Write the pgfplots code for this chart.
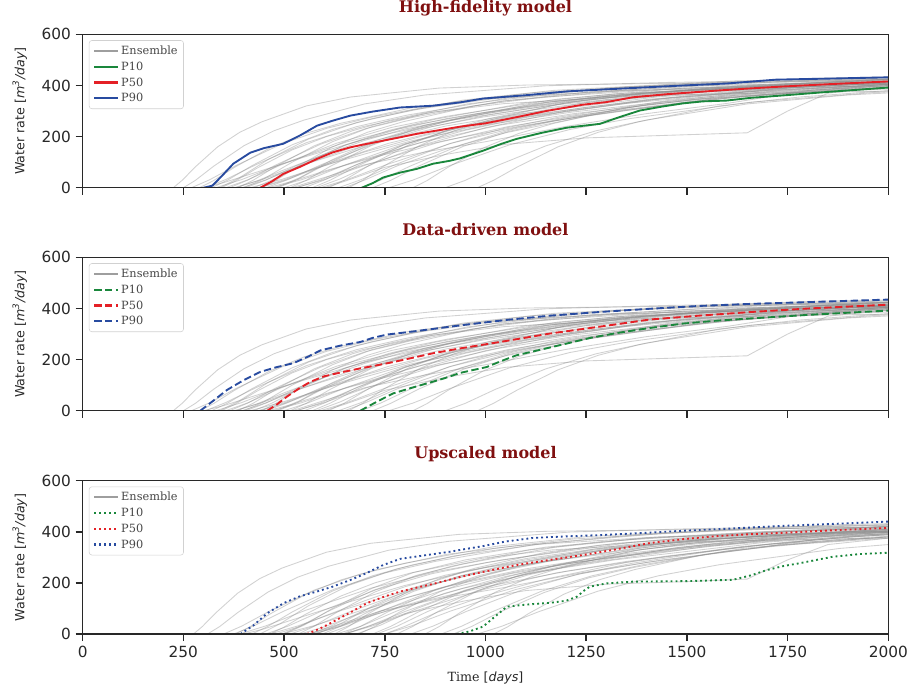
\documentclass[border=0pt]{standalone}
\usepackage{fontspec}
\setmainfont{DejaVu Sans}
\newfontfamily\dvserif{DejaVu Serif}
\usepackage{pgfplots}
\pgfplotsset{compat=1.18}

\definecolor{pten}{RGB}{26,135,60}
\definecolor{pfifty}{RGB}{228,32,38}
\definecolor{pninety}{RGB}{40,75,160}
\definecolor{ttl}{RGB}{128,16,16}
\definecolor{spine}{RGB}{40,40,40}

\pgfplotsset{
  ens/.style={black!45, opacity=0.4, line width=0.65pt, forget plot},
  panel/.style={
    scale only axis, width=604.2pt, height=115pt,
    axis on top,
    xmin=0, xmax=2000, ymin=0, ymax=600,
    xtick={0,250,...,2000}, ytick={0,200,400,600},
    tick align=outside, xtick pos=bottom, ytick pos=left,
    major tick length=5.25pt,
    every tick/.style={spine, line width=1.1pt},
    axis line style={spine, line width=1.1pt},
    tick label style={font=\fontsize{11.5}{13}\selectfont, text=spine},
    /pgf/number format/assume math mode=true,
    /pgf/number format/set thousands separator={},
    ylabel={Water rate [\textit{m}\textsuperscript{\textit{3}}\textit{/day}]},
    ylabel style={at={(axis description cs:-0.078,0.5)}, anchor=center, font=\fontsize{9.5}{11}\selectfont, text=spine},
    title style={at={(axis description cs:0.5,1)}, anchor=base, yshift=10.3pt, font=\dvserif\bfseries\fontsize{12}{14}\selectfont, text=ttl},
    legend style={at={(axis description cs:0.0078,0.962)}, anchor=north west,
      draw=black!18, rounded corners=2pt, fill=white, fill opacity=0.85, text opacity=1,
      font=\dvserif\fontsize{8.5}{10}\selectfont, text=black!72,
      inner xsep=3pt, inner ysep=2pt, row sep=0pt,
      nodes={inner sep=1.4pt, text depth=0.18em, text height=0.72em}},
    legend cell align=left,
    legend image code/.code={\draw[#1, line width=1.6pt] (0pt,0pt) -- (18pt,0pt);},
  }
}

\newcommand{\ensA}{%
\addplot[ens] coordinates {(0,0)(225,0)(247,29)(280,82)(335,160)(390,217)(445,258)(555,320)(665,355)(885,390)(1105,402)(2000,418)};
\addplot[ens] coordinates {(0,0)(250,0)(280,29)(325,84)(400,164)(475,223)(550,265)(700,328)(850,363)(1150,399)(1450,412)(2000,425)};
\addplot[ens] coordinates {(0,0)(270,0)(315,31)(382,88)(495,172)(607,233)(720,277)(945,343)(1170,381)(1620,418)(2000,430)};
\addplot[ens] coordinates {(0,0)(290,0)(325,28)(377,80)(465,156)(552,212)(640,252)(815,312)(990,346)(1340,380)(1690,392)(2000,398)};
\addplot[ens] coordinates {(0,0)(305,0)(355,32)(430,90)(555,176)(680,239)(805,284)(1055,351)(1305,389)(1805,428)(2000,434)};
\addplot[ens] coordinates {(0,0)(320,0)(360,30)(420,86)(520,168)(620,228)(720,271)(920,335)(1120,372)(1520,409)(1920,421)(2000,423)};
\addplot[ens] coordinates {(0,0)(330,0)(395,32)(492,92)(655,179)(817,244)(980,290)(1305,359)(1630,398)(2000,425)};
\addplot[ens] coordinates {(0,0)(345,0)(380,27)(432,76)(520,148)(607,201)(695,239)(870,296)(1045,329)(1395,361)(1745,372)(2000,378)};
\addplot[ens] coordinates {(0,0)(355,0)(410,31)(492,89)(630,174)(767,236)(905,280)(1180,347)(1455,385)(2000,423)};
\addplot[ens] coordinates {(0,0)(365,0)(410,30)(477,87)(590,170)(702,231)(815,274)(1040,339)(1265,376)(1715,413)(2000,424)};
\addplot[ens] coordinates {(0,0)(375,0)(445,32)(550,91)(725,177)(900,241)(1075,287)(1425,355)(1775,394)(2000,410)};
\addplot[ens] coordinates {(0,0)(385,0)(423,29)(480,84)(575,164)(670,223)(765,265)(955,328)(1145,363)(1525,399)(1905,412)(2000,414)};
\addplot[ens] coordinates {(0,0)(395,0)(455,31)(545,88)(695,172)(845,233)(995,277)(1295,343)(1595,381)(2000,410)};
\addplot[ens] coordinates {(0,0)(405,0)(455,30)(530,86)(655,168)(780,228)(905,271)(1155,335)(1405,372)(1905,409)(2000,412)};
\addplot[ens] coordinates {(0,0)(415,0)(495,33)(615,94)(815,183)(1015,249)(1215,296)(1615,367)(2000,404)};
\addplot[ens] coordinates {(0,0)(425,0)(470,30)(537,85)(650,166)(762,225)(875,268)(1100,332)(1325,368)(1775,404)(2000,414)};
\addplot[ens] coordinates {(0,0)(435,0)(500,31)(597,89)(760,174)(922,236)(1085,280)(1410,347)(1735,385)(2000,405)};
\addplot[ens] coordinates {(0,0)(445,0)(480,29)(532,82)(620,160)(707,217)(795,258)(970,320)(1145,355)(1495,390)(1845,402)(2000,405)};
\addplot[ens] coordinates {(0,0)(455,0)(510,32)(592,90)(730,176)(867,239)(1005,284)(1280,351)(1555,389)(2000,423)};
\addplot[ens] coordinates {(0,0)(470,0)(545,32)(657,92)(845,179)(1032,244)(1220,290)(1595,359)(1970,398)(2000,400)};
\addplot[ens] coordinates {(0,0)(485,0)(530,30)(597,86)(710,168)(822,228)(935,271)(1160,335)(1385,372)(1835,409)(2000,414)};
\addplot[ens] coordinates {(0,0)(500,0)(560,31)(650,88)(800,172)(950,233)(1100,277)(1400,343)(1700,381)(2000,404)};
\addplot[ens] coordinates {(0,0)(515,0)(555,29)(615,84)(715,164)(815,223)(915,265)(1115,328)(1315,363)(1715,399)(2000,410)};
\addplot[ens] coordinates {(0,0)(530,0)(600,32)(705,90)(880,176)(1055,239)(1230,284)(1580,351)(1930,389)(2000,394)};
\addplot[ens] coordinates {(0,0)(550,0)(600,30)(675,87)(800,170)(925,231)(1050,274)(1300,339)(1550,376)(2000,411)};
\addplot[ens] coordinates {(0,0)(570,0)(615,30)(682,85)(795,166)(907,225)(1020,268)(1245,332)(1470,368)(1920,404)(2000,407)};
\addplot[ens] coordinates {(0,0)(590,0)(655,31)(752,89)(915,174)(1077,236)(1240,280)(1565,347)(1890,385)(2000,392)};
\addplot[ens] coordinates {(0,0)(610,0)(650,30)(710,86)(810,168)(910,228)(1010,271)(1210,335)(1410,372)(1810,409)(2000,416)};
\addplot[ens] coordinates {(0,0)(635,0)(690,31)(772,88)(910,172)(1047,233)(1185,277)(1460,343)(1735,381)(2000,404)};
\addplot[ens] coordinates {(0,0)(660,0)(695,29)(747,84)(835,164)(922,223)(1010,265)(1185,328)(1360,363)(1710,399)(2000,410)};
\addplot[ens] coordinates {(0,0)(690,0)(740,30)(815,86)(940,168)(1065,228)(1190,271)(1440,335)(1690,372)(2000,400)};
\addplot[ens] coordinates {(0,0)(720,0)(765,29)(832,83)(945,162)(1057,220)(1170,261)(1395,324)(1620,359)(2000,392)};
\addplot[ens] coordinates {(0,0)(760,0)(820,30)(910,86)(1060,168)(1210,228)(1360,271)(1660,335)(1960,372)(2000,375)};
\addplot[ens] coordinates {(0,0)(820,0)(855,28)(907,80)(995,156)(1082,212)(1170,252)(1345,312)(1520,346)(1870,380)(2000,386)};
\addplot[ens] coordinates {(0,0)(900,0)(950,29)(1025,84)(1150,164)(1275,223)(1400,265)(1650,328)(1900,363)(2000,371)};
\addplot[ens] coordinates {(0,0)(980,0)(1020,29)(1080,82)(1180,160)(1280,217)(1380,258)(1580,320)(1780,355)(2000,380)};
\addplot[ens] coordinates {(0,0)(600,0)(650,25)(750,80)(900,130)(1050,170)(1250,195)(1450,205)(1650,215)(1750,300)(1850,370)(2000,395)};
\addplot[ens] coordinates {(0,0)(520,0)(600,40)(700,90)(850,140)(1000,180)(1200,240)(1400,290)(1600,330)(1800,380)(2000,405)};
\addplot[ens] coordinates {(0,0)(380,0)(430,25)(500,70)(600,130)(700,185)(800,230)(1000,290)(1200,335)(1500,380)(2000,415)};
\addplot[ens] coordinates {(0,0)(400,0)(450,35)(520,100)(620,180)(720,240)(850,290)(1050,340)(1300,375)(1700,405)(2000,420)};
\addplot[ens] coordinates {(0,0)(440,0)(500,28)(580,75)(700,140)(850,205)(1000,255)(1250,315)(1500,360)(1800,395)(2000,410)};
\addplot[ens] coordinates {(0,0)(480,0)(540,40)(620,110)(720,180)(850,245)(1000,295)(1250,350)(1550,390)(2000,425)};
\addplot[ens] coordinates {(0,0)(530,0)(590,30)(680,90)(800,160)(950,225)(1100,275)(1350,330)(1650,375)(2000,405)};
\addplot[ens] coordinates {(0,0)(340,0)(390,40)(460,110)(560,190)(680,255)(820,305)(1050,355)(1350,395)(2000,430)};
\addplot[ens] coordinates {(0,0)(580,0)(640,35)(730,100)(850,170)(1000,235)(1200,300)(1450,350)(1750,390)(2000,408)};
\addplot[ens] coordinates {(0,0)(460,0)(520,25)(610,70)(750,130)(900,185)(1100,245)(1350,305)(1650,360)(2000,400)};
\addplot[ens] coordinates {(0,0)(300,0)(350,20)(430,60)(550,120)(700,190)(900,260)(1150,320)(1450,370)(2000,415)};
\addplot[ens] coordinates {(0,0)(650,0)(700,30)(780,85)(900,150)(1050,215)(1250,280)(1500,335)(1800,380)(2000,398)};
}

\newcommand{\ensB}{%
\addplot[ens] coordinates {(0,0)(275,0)(297,29)(330,82)(385,160)(440,217)(495,258)(605,320)(715,355)(935,390)(1155,402)(2000,418)};
\addplot[ens] coordinates {(0,0)(310,0)(340,29)(385,84)(460,164)(535,223)(610,265)(760,328)(910,363)(1210,399)(1510,412)(2000,425)};
\addplot[ens] coordinates {(0,0)(350,0)(395,31)(462,88)(575,172)(687,233)(800,277)(1025,343)(1250,381)(1700,418)(2000,428)};
\addplot[ens] coordinates {(0,0)(380,0)(415,28)(467,80)(555,156)(642,212)(730,252)(905,312)(1080,346)(1430,380)(1780,392)(2000,397)};
\addplot[ens] coordinates {(0,0)(375,0)(425,32)(500,90)(625,176)(750,239)(875,284)(1125,351)(1375,389)(1875,428)(2000,432)};
\addplot[ens] coordinates {(0,0)(420,0)(460,30)(520,86)(620,168)(720,228)(820,271)(1020,335)(1220,372)(1620,409)(2000,420)};
\addplot[ens] coordinates {(0,0)(390,0)(455,32)(552,92)(715,179)(877,244)(1040,290)(1365,359)(1690,398)(2000,422)};
\addplot[ens] coordinates {(0,0)(465,0)(500,27)(552,76)(640,148)(727,201)(815,239)(990,296)(1165,329)(1515,361)(1865,372)(2000,376)};
\addplot[ens] coordinates {(0,0)(455,0)(510,31)(592,89)(730,174)(867,236)(1005,280)(1280,347)(1555,385)(2000,420)};
\addplot[ens] coordinates {(0,0)(495,0)(540,30)(607,87)(720,170)(832,231)(945,274)(1170,339)(1395,376)(1845,413)(2000,420)};
\addplot[ens] coordinates {(0,0)(465,0)(535,32)(640,91)(815,177)(990,241)(1165,287)(1515,355)(1865,394)(2000,402)};
\addplot[ens] coordinates {(0,0)(535,0)(573,29)(630,84)(725,164)(820,223)(915,265)(1105,328)(1295,363)(1675,399)(2000,412)};
\addplot[ens] coordinates {(0,0)(515,0)(575,31)(665,88)(815,172)(965,233)(1115,277)(1415,343)(1715,381)(2000,402)};
\addplot[ens] coordinates {(0,0)(565,0)(615,30)(690,86)(815,168)(940,228)(1065,271)(1315,335)(1565,372)(2000,405)};
\addplot[ens] coordinates {(0,0)(495,0)(575,33)(695,94)(895,183)(1095,249)(1295,296)(1695,367)(2000,398)};
\addplot[ens] coordinates {(0,0)(595,0)(640,30)(707,85)(820,166)(932,225)(1045,268)(1270,332)(1495,368)(1945,404)(2000,406)};
\addplot[ens] coordinates {(0,0)(575,0)(640,31)(737,89)(900,174)(1062,236)(1225,280)(1550,347)(1875,385)(2000,392)};
\addplot[ens] coordinates {(0,0)(625,0)(660,29)(712,82)(800,160)(887,217)(975,258)(1150,320)(1325,355)(1675,390)(2000,402)};
\addplot[ens] coordinates {(0,0)(605,0)(660,32)(742,90)(880,176)(1017,239)(1155,284)(1430,351)(1705,389)(2000,415)};
\addplot[ens] coordinates {(0,0)(570,0)(645,32)(757,92)(945,179)(1132,244)(1320,290)(1695,359)(2000,392)};
\addplot[ens] coordinates {(0,0)(645,0)(690,30)(757,86)(870,168)(982,228)(1095,271)(1320,335)(1545,372)(2000,408)};
\addplot[ens] coordinates {(0,0)(650,0)(710,31)(800,88)(950,172)(1100,233)(1250,277)(1550,343)(1850,381)(2000,392)};
\addplot[ens] coordinates {(0,0)(685,0)(725,29)(785,84)(885,164)(985,223)(1085,265)(1285,328)(1485,363)(1885,399)(2000,404)};
\addplot[ens] coordinates {(0,0)(650,0)(720,32)(825,90)(1000,176)(1175,239)(1350,284)(1700,351)(2000,380)};
\addplot[ens] coordinates {(0,0)(730,0)(780,30)(855,87)(980,170)(1105,231)(1230,274)(1480,339)(1730,376)(2000,400)};
\addplot[ens] coordinates {(0,0)(720,0)(765,30)(832,85)(945,166)(1057,225)(1170,268)(1395,332)(1620,368)(2000,398)};
\addplot[ens] coordinates {(0,0)(750,0)(815,31)(912,89)(1075,174)(1237,236)(1400,280)(1725,347)(2000,380)};
\addplot[ens] coordinates {(0,0)(780,0)(820,30)(880,86)(980,168)(1080,228)(1180,271)(1380,335)(1580,372)(1980,409)(2000,410)};
\addplot[ens] coordinates {(0,0)(815,0)(870,31)(952,88)(1090,172)(1227,233)(1365,277)(1640,343)(1915,381)(2000,388)};
\addplot[ens] coordinates {(0,0)(850,0)(885,29)(937,84)(1025,164)(1112,223)(1200,265)(1375,328)(1550,363)(1900,399)(2000,403)};
\addplot[ens] coordinates {(0,0)(890,0)(940,30)(1015,86)(1140,168)(1265,228)(1390,271)(1640,335)(1890,372)(2000,383)};
\addplot[ens] coordinates {(0,0)(920,0)(965,29)(1032,83)(1145,162)(1257,220)(1370,261)(1595,324)(1820,359)(2000,380)};
\addplot[ens] coordinates {(0,0)(980,0)(1040,30)(1130,86)(1280,168)(1430,228)(1580,271)(1880,335)(2000,350)};
\addplot[ens] coordinates {(0,0)(1020,0)(1055,28)(1107,80)(1195,156)(1282,212)(1370,252)(1545,312)(1720,346)(2000,375)};
\addplot[ens] coordinates {(0,0)(650,0)(700,25)(800,80)(950,130)(1100,170)(1300,195)(1500,205)(1650,215)(1750,290)(1850,350)(2000,375)};
\addplot[ens] coordinates {(0,0)(560,0)(640,40)(740,90)(890,140)(1040,180)(1240,240)(1440,290)(1640,330)(1840,375)(2000,395)};
\addplot[ens] coordinates {(0,0)(480,0)(530,25)(600,70)(700,130)(800,185)(900,230)(1100,290)(1300,335)(1600,380)(2000,410)};
\addplot[ens] coordinates {(0,0)(500,0)(550,35)(620,100)(720,180)(820,240)(950,290)(1150,340)(1400,375)(1800,405)(2000,415)};
\addplot[ens] coordinates {(0,0)(540,0)(600,28)(680,75)(800,140)(950,205)(1100,255)(1350,315)(1600,360)(1900,395)(2000,402)};
\addplot[ens] coordinates {(0,0)(580,0)(640,40)(720,110)(820,180)(950,245)(1100,295)(1350,350)(1650,390)(2000,420)};
\addplot[ens] coordinates {(0,0)(630,0)(690,30)(780,90)(900,160)(1050,225)(1200,275)(1450,330)(1750,375)(2000,398)};
\addplot[ens] coordinates {(0,0)(440,0)(490,40)(560,110)(660,190)(780,255)(920,305)(1150,355)(1450,395)(2000,428)};
\addplot[ens] coordinates {(0,0)(680,0)(740,35)(830,100)(950,170)(1100,235)(1300,300)(1550,350)(1850,390)(2000,400)};
\addplot[ens] coordinates {(0,0)(560,0)(620,25)(710,70)(850,130)(1000,185)(1200,245)(1450,305)(1750,360)(2000,390)};
\addplot[ens] coordinates {(0,0)(400,0)(450,20)(530,60)(650,120)(800,190)(1000,260)(1250,320)(1550,370)(2000,410)};
\addplot[ens] coordinates {(0,0)(750,0)(800,30)(880,85)(1000,150)(1150,215)(1350,280)(1600,335)(1900,380)(2000,388)};
}

\begin{document}
\begin{tikzpicture}
\useasboundingbox (-62pt,-376.7pt) rectangle (620.5pt,140.8pt);

% ---------------- Panel 1 ----------------
\begin{axis}[panel, at={(0,0)}, anchor=south west, title={High-fidelity model}, xticklabels={}]
\ensA
\addlegendimage{black!38}
\addlegendentry{Ensemble}
\addplot[pten, line width=1.4pt] coordinates {(693,0)(720,18)(746,40)(790,60)(830,74)(870,94)(910,105)(937,115)(994,145)(1040,172)(1077,191)(1140,215)(1202,235)(1284,250)(1330,275)(1383,302)(1440,318)(1490,330)(1540,338)(1598,341)(1660,352)(1737,361)(1850,375)(2000,392)};
\addlegendentry{P10}
\addplot[pfifty, line width=1.4pt] coordinates {(441,0)(470,25)(498,54)(540,82)(582,113)(620,138)(664,158)(700,170)(746,184)(790,198)(830,211)(880,224)(937,239)(1000,252)(1077,276)(1150,300)(1242,325)(1300,335)(1366,354)(1450,366)(1573,380)(1650,388)(1737,396)(1850,405)(2000,416)};
\addlegendentry{P50}
\addplot[pninety, line width=1.4pt] coordinates {(300,0)(322,8)(345,45)(374,94)(416,137)(450,155)(498,172)(540,205)(582,243)(620,262)(664,282)(720,298)(788,314)(870,321)(937,334)(994,349)(1100,362)(1202,377)(1300,385)(1400,393)(1490,400)(1600,408)(1722,423)(1850,427)(2000,432)};
\addlegendentry{P90}
\end{axis}

% ---------------- Panel 2 ----------------
\begin{axis}[panel, at={(0,-167.25pt)}, anchor=south west, title={Data-driven model}, xticklabels={}]
\ensA
\addlegendimage{black!38}
\addlegendentry{Ensemble}
\addplot[pten, line width=1.4pt, dash pattern=on 5.5pt off 2.6pt] coordinates {(689,0)(730,35)(771,68)(813,88)(855,107)(900,128)(937,148)(1003,171)(1040,195)(1077,217)(1140,240)(1202,263)(1260,285)(1326,304)(1400,322)(1490,341)(1570,352)(1656,361)(1800,375)(2000,392)};
\addlegendentry{P10}
\addplot[pfifty, line width=1.4pt, dash pattern=on 5.5pt off 2.6pt] coordinates {(458,0)(480,22)(507,55)(535,85)(565,113)(600,135)(647,152)(690,166)(731,178)(770,190)(813,205)(870,225)(937,244)(1036,269)(1160,302)(1284,329)(1408,357)(1530,372)(1656,386)(1800,400)(2000,415)};
\addlegendentry{P50}
\addplot[pninety, line width=1.4pt, dash pattern=on 5.5pt off 2.6pt] coordinates {(292,0)(325,40)(358,81)(400,120)(441,152)(480,170)(523,186)(560,212)(590,236)(640,255)(689,269)(720,285)(755,298)(830,312)(937,334)(1050,355)(1160,372)(1280,386)(1408,399)(1530,410)(1656,418)(1800,425)(2000,435)};
\addlegendentry{P90}
\end{axis}

% ---------------- Panel 3 ----------------
\begin{axis}[panel, at={(0,-334.7pt)}, anchor=south west, title={Upscaled model},
  xlabel={{\dvserif Time} [\textit{days}]},
  xlabel style={at={(axis description cs:0.5,0)}, anchor=center, yshift=-33pt, font=\fontsize{9.5}{11}\selectfont, text=spine}]
\ensB
\addlegendimage{black!38}
\addlegendentry{Ensemble}
\addplot[pten, line width=1.4pt, dash pattern=on 1.4pt off 2.3pt] coordinates {(929,0)(960,10)(994,29)(1025,70)(1053,107)(1100,115)(1160,122)(1200,130)(1227,146)(1245,170)(1259,185)(1300,198)(1366,205)(1500,207)(1614,212)(1660,230)(1698,250)(1740,266)(1780,277)(1861,302)(1930,313)(2000,318)};
\addlegendentry{P10}
\addplot[pfifty, line width=1.4pt, dash pattern=on 1.4pt off 2.3pt] coordinates {(557,0)(590,22)(622,48)(665,85)(706,121)(750,147)(788,166)(830,182)(870,196)(937,223)(1000,245)(1077,270)(1160,290)(1242,309)(1320,330)(1408,356)(1490,371)(1573,383)(1650,390)(1737,396)(1850,405)(2000,415)};
\addlegendentry{P50}
\addplot[pninety, line width=1.4pt, dash pattern=on 1.4pt off 2.3pt] coordinates {(392,0)(425,35)(458,81)(499,121)(540,148)(581,166)(620,185)(664,211)(700,235)(746,270)(788,294)(850,308)(912,322)(937,329)(994,344)(1050,362)(1118,376)(1200,382)(1284,387)(1400,396)(1490,404)(1600,412)(1737,423)(1850,430)(2000,440)};
\addlegendentry{P90}
\end{axis}
\end{tikzpicture}
\end{document}
